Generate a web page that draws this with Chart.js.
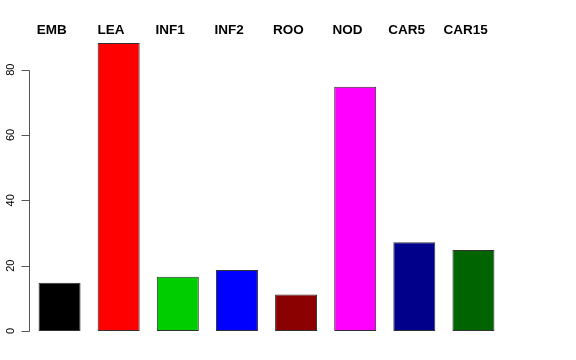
<!DOCTYPE html>
<html>
<head>
<meta charset="utf-8">
<script src="https://cdn.jsdelivr.net/npm/chart.js@4/dist/chart.umd.min.js"></script>
<style>
  html, body { margin: 0; padding: 0; background: #fff; }
  canvas { display: block; }
</style>
</head>
<body>
<canvas id="chart" width="576" height="360"></canvas>
<script>
const categories = ['EMB', 'LEA', 'INF1', 'INF2', 'ROO', 'NOD', 'CAR5', 'CAR15'];
const values = [14.8, 88.2, 16.6, 18.7, 11.2, 74.8, 27.2, 24.8];
const barColors = ['#000000', '#ff0000', '#00cd00', '#0000ff', '#8b0000', '#ff00ff', '#00008b', '#006400'];
const yTicks = [0, 20, 40, 60, 80];

// R-style axis: line only spans the tick range, labels rotated
const rAxis = {
  id: 'rAxis',
  afterDraw(chart) {
    const { ctx: c, scales, chartArea } = chart;
    const y = scales.y;
    const x = scales.x;
    const axisX = chartArea.left - 0.5;
    c.save();
    c.strokeStyle = '#555';
    c.lineWidth = 1;
    c.beginPath();
    c.moveTo(axisX, Math.round(y.getPixelForValue(yTicks[0])) + 0.5);
    c.lineTo(axisX, Math.round(y.getPixelForValue(yTicks[yTicks.length - 1])) + 0.5);
    yTicks.forEach((v) => {
      const py = Math.round(y.getPixelForValue(v)) + 0.5;
      c.moveTo(axisX - 8, py);
      c.lineTo(axisX, py);
    });
    c.stroke();

    c.fillStyle = '#000';
    c.font = '11px "Liberation Sans", Arial, sans-serif';
    c.textAlign = 'center';
    c.textBaseline = 'middle';
    yTicks.forEach((v) => {
      const py = y.getPixelForValue(v);
      c.save();
      c.translate(11, py);
      c.rotate(-Math.PI / 2);
      c.fillText(String(v), 0, 0);
      c.restore();
    });

    c.font = 'bold 13.5px "Liberation Sans", Arial, sans-serif';
    categories.forEach((name, i) => {
      c.fillText(name, x.getPixelForValue(i) - 7.7, 30);
    });
    c.restore();
  }
};

new Chart(document.getElementById('chart'), {
  type: 'bar',
  data: {
    labels: categories,
    datasets: [{
      data: values,
      backgroundColor: barColors,
      borderColor: '#333',
      borderWidth: 1,
      borderSkipped: false,
      barPercentage: 0.71,
      categoryPercentage: 1
    }]
  },
  options: {
    responsive: false,
    animation: false,
    devicePixelRatio: 1,
    layout: { padding: { top: 37, bottom: 29, left: 0, right: 73 } },
    plugins: { legend: { display: false }, tooltip: { enabled: false } },
    scales: {
      x: { display: false, offset: true },
      y: {
        min: 0,
        max: 90,
        afterFit(scale) { scale.width = 30; },
        ticks: { display: false },
        grid: { display: false },
        border: { display: false }
      }
    }
  },
  plugins: [rAxis]
});
</script>
</body>
</html>
